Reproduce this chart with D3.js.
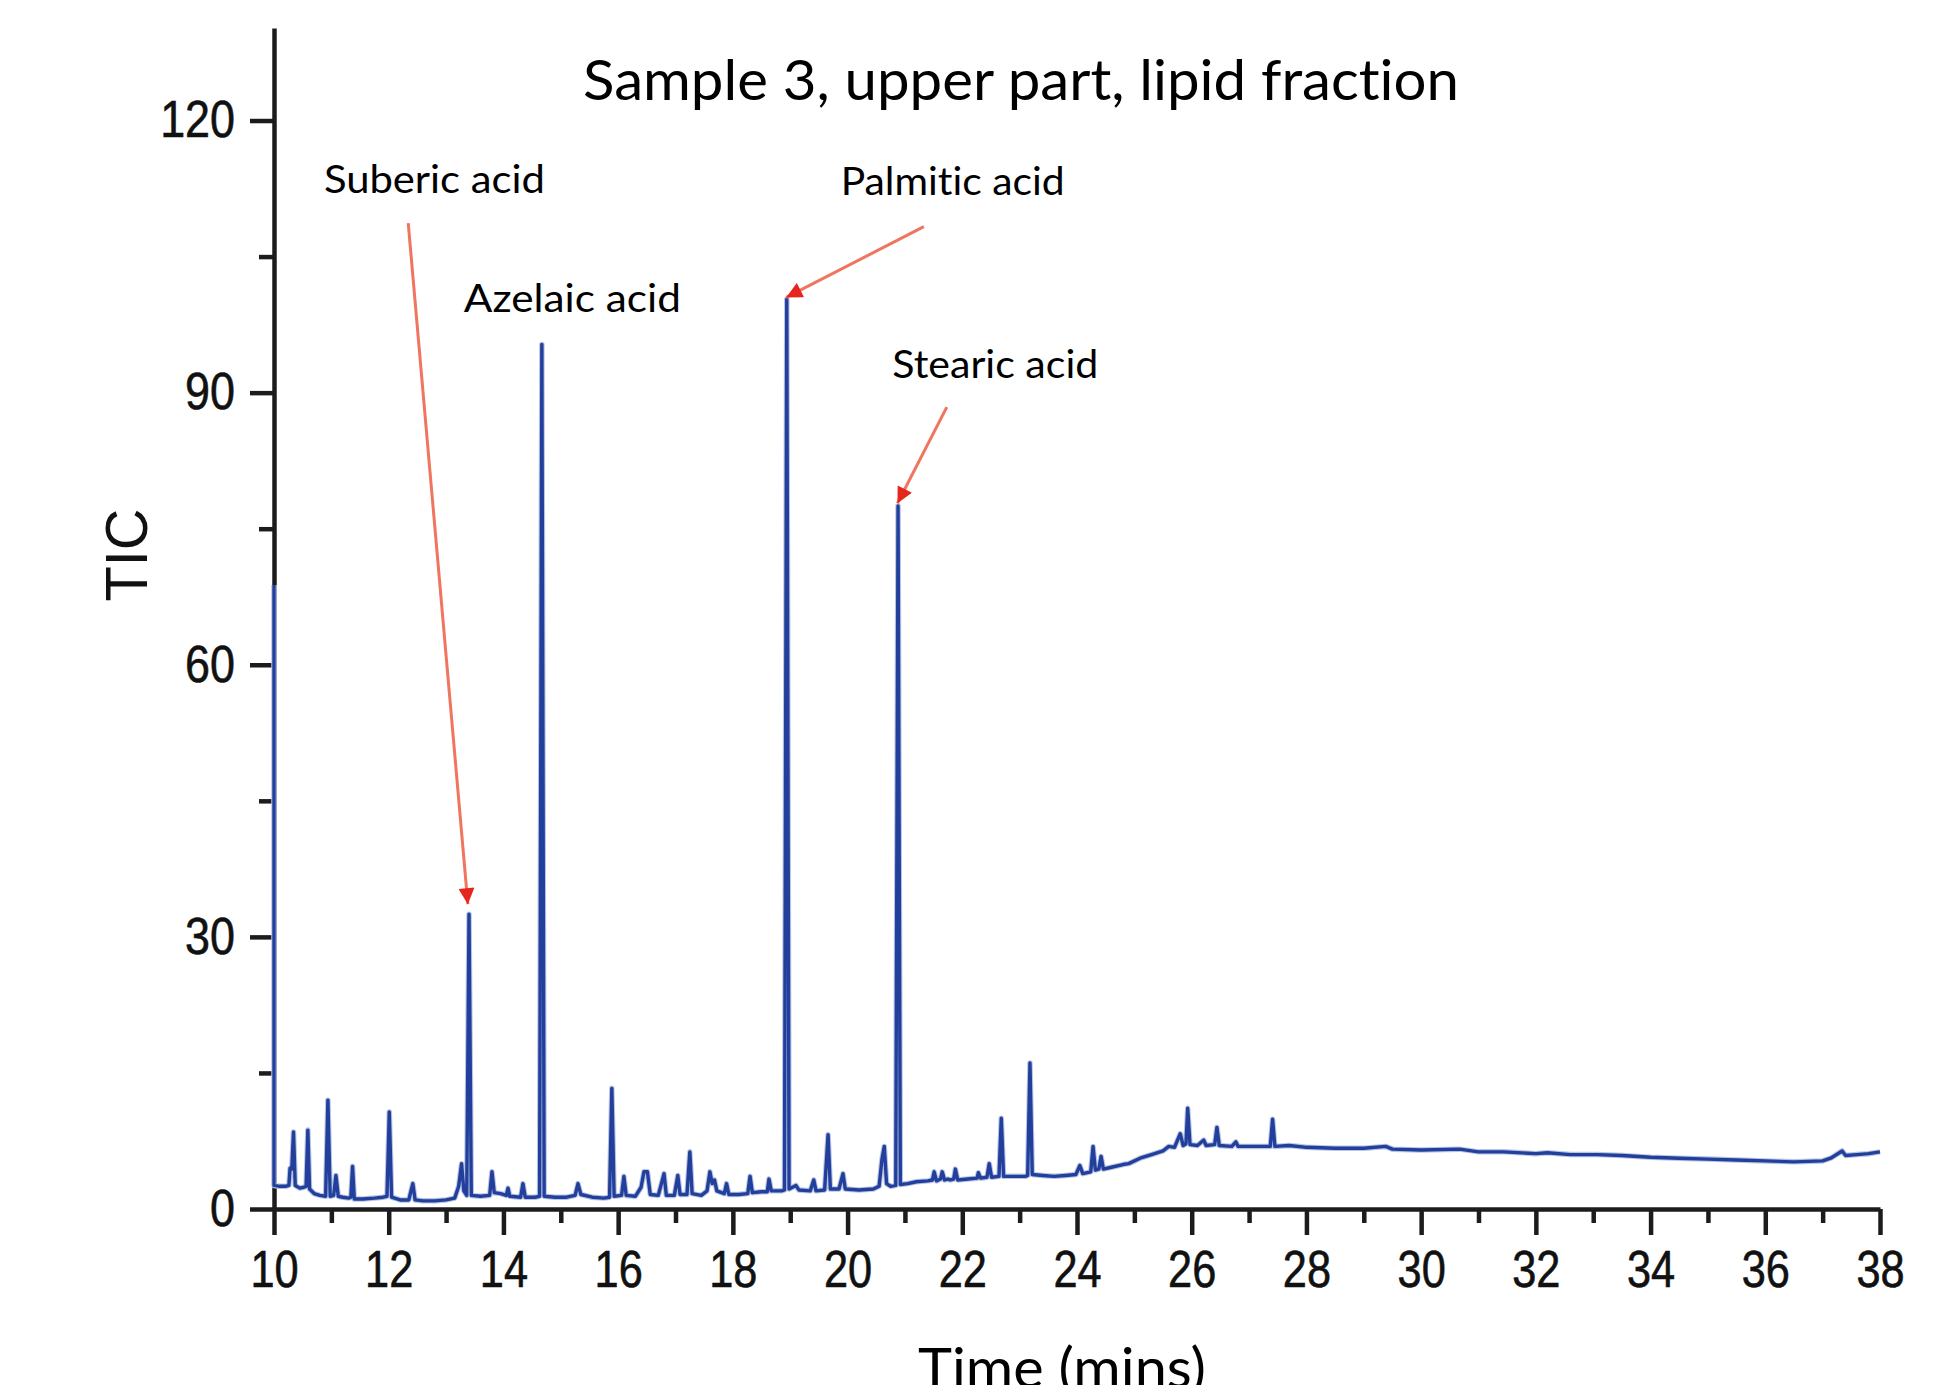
<!DOCTYPE html>
<html>
<head>
<meta charset="utf-8">
<script src="https://cdn.jsdelivr.net/npm/d3@7"></script>
<style>
  html, body { margin: 0; padding: 0; background: #fff; overflow: hidden; }
  svg { display: block; }
  text { font-variant-ligatures: none; }
</style>
</head>
<body>
<svg id="chart" width="1944" height="1385"></svg>
<script>
// chromatogram trace: retention time (min) and TIC
const traceTime = [
  10.00, 10.00, 10.10, 10.20, 10.26, 10.28, 10.31, 10.34, 10.37, 10.45,
  10.52, 10.56, 10.59, 10.62, 10.70, 10.80, 10.90, 10.94, 10.98, 11.04,
  11.08, 11.12, 11.20, 11.30, 11.34, 11.37, 11.40, 11.55, 11.75, 11.90,
  11.97, 12.01, 12.05, 12.20, 12.35, 12.42, 12.46, 12.60, 12.80, 13.00,
  13.15, 13.22, 13.27, 13.31, 13.36, 13.40, 13.44, 13.60, 13.76, 13.80,
  13.84, 13.95, 14.05, 14.08, 14.11, 14.30, 14.34, 14.38, 14.55, 14.63,
  14.67, 14.71, 14.90, 15.10, 15.25, 15.30, 15.35, 15.55, 15.75, 15.85,
  15.89, 15.93, 16.06, 16.10, 16.14, 16.30, 16.40, 16.45, 16.51, 16.56,
  16.70, 16.80, 16.84, 16.98, 17.04, 17.08, 17.20, 17.25, 17.29, 17.45,
  17.55, 17.60, 17.64, 17.68, 17.72, 17.85, 17.89, 17.93, 18.10, 18.26,
  18.30, 18.34, 18.50, 18.60, 18.63, 18.67, 18.85, 18.90, 18.94, 18.98,
  19.10, 19.15, 19.35, 19.41, 19.45, 19.60, 19.66, 19.70, 19.85, 19.92,
  19.96, 20.20, 20.45, 20.55, 20.60, 20.64, 20.68, 20.75, 20.84, 20.88,
  20.92, 21.05, 21.20, 21.40, 21.48, 21.51, 21.55, 21.62, 21.65, 21.69,
  21.75, 21.79, 21.85, 21.88, 21.92, 22.10, 22.26, 22.28, 22.32, 22.43,
  22.47, 22.51, 22.64, 22.68, 22.72, 22.90, 23.10, 23.14, 23.18, 23.22,
  23.40, 23.60, 23.80, 23.98, 24.05, 24.10, 24.24, 24.28, 24.32, 24.38,
  24.42, 24.46, 24.60, 24.80, 24.90, 25.10, 25.30, 25.50, 25.60, 25.70,
  25.80, 25.85, 25.90, 25.93, 25.97, 26.10, 26.21, 26.25, 26.40, 26.44,
  26.48, 26.70, 26.77, 26.81, 27.00, 27.20, 27.37, 27.41, 27.45, 27.70,
  28.00, 28.50, 29.00, 29.38, 29.50, 30.00, 30.67, 31.00, 31.44, 32.00,
  32.20, 32.60, 33.07, 33.50, 34.00, 34.50, 35.00, 35.50, 36.00, 36.50,
  37.00, 37.14, 37.34, 37.40, 37.60, 37.80, 38.00
];
const traceTic = [
  68.8, 2.6, 2.5, 2.5, 2.6, 4.5, 4.4, 8.5, 2.6, 2.3,
  2.4, 2.5, 8.7, 2.2, 1.7, 1.5, 1.4, 12.0, 1.4, 1.5,
  3.7, 1.4, 1.3, 1.2, 1.3, 4.7, 1.1, 1.1, 1.2, 1.3,
  1.4, 10.7, 1.3, 1.0, 1.0, 2.8, 1.0, 0.9, 0.9, 1.0,
  1.2, 2.5, 5.0, 2.0, 1.5, 32.5, 1.5, 1.4, 1.5, 4.1,
  1.8, 1.7, 1.5, 2.3, 1.4, 1.3, 2.8, 1.3, 1.3, 1.4,
  95.3, 1.4, 1.3, 1.3, 1.5, 2.8, 1.6, 1.3, 1.2, 1.3,
  13.3, 1.4, 1.5, 3.6, 1.5, 1.4, 2.4, 4.1, 4.1, 1.6,
  1.5, 3.9, 1.5, 1.5, 3.7, 1.6, 1.6, 6.3, 1.7, 1.5,
  2.0, 4.1, 2.8, 3.2, 2.0, 1.7, 2.8, 1.6, 1.6, 1.7,
  3.6, 1.8, 1.9, 1.9, 3.3, 2.0, 2.0, 2.1, 100.3, 2.2,
  2.6, 2.1, 2.0, 3.2, 2.0, 2.1, 8.2, 2.2, 2.2, 3.9,
  2.2, 2.1, 2.2, 2.5, 5.5, 6.9, 2.8, 2.5, 2.6, 77.5,
  2.7, 2.8, 3.0, 3.1, 3.2, 4.1, 3.1, 3.3, 4.1, 3.2,
  3.3, 3.2, 3.3, 4.4, 3.2, 3.3, 3.4, 4.0, 3.4, 3.5,
  5.0, 3.5, 3.6, 10.0, 3.6, 3.6, 3.6, 3.7, 16.1, 3.8,
  3.7, 3.6, 3.7, 3.8, 4.8, 3.9, 4.1, 6.9, 4.3, 4.4,
  5.8, 4.4, 4.6, 4.9, 5.0, 5.6, 6.0, 6.4, 6.9, 6.8,
  8.3, 7.0, 7.2, 11.1, 7.1, 7.0, 7.6, 7.0, 7.1, 9.0,
  7.0, 6.9, 7.4, 6.9, 6.9, 6.9, 6.9, 9.9, 6.9, 7.0,
  6.8, 6.7, 6.7, 6.9, 6.6, 6.5, 6.6, 6.3, 6.3, 6.1,
  6.2, 6.0, 6.0, 5.9, 5.7, 5.6, 5.5, 5.4, 5.3, 5.2,
  5.3, 5.6, 6.4, 5.9, 6.0, 6.1, 6.3
];

// axis ticks
const xMajorTicks = [10, 12, 14, 16, 18, 20, 22, 24, 26, 28, 30, 32, 34, 36, 38];
const xMinorTicks = [11, 13, 15, 17, 19, 21, 23, 25, 27, 29, 31, 33, 35, 37];
const yMajorTicks = [0, 30, 60, 90, 120];
const yMinorTicks = [15, 45, 75, 105];

// peak annotations, anchored in data units (time, TIC) of the label's left baseline
const labelNames = ['Suberic acid', 'Azelaic acid', 'Palmitic acid', 'Stearic acid'];
const labelTime = [10.87, 13.31, 19.88, 20.78];
const labelTic = [112.0, 98.9, 111.8, 91.6];

// arrows: tail and tip in data units
const arrowTailTime = [12.34, 21.33, 21.73];
const arrowTailTic = [108.7, 108.3, 88.4];
const arrowTipTime = [13.38, 18.93, 20.87];
const arrowTipTic = [33.6, 100.5, 77.8];

const titleText = 'Sample 3, upper part, lipid fraction';
const xLabel = 'Time (mins)';
const yLabel = 'TIC';

// ---- drawing ----
const svg = d3.select('#chart');
const W = 1944, H = 1385;
svg.append('rect').attr('width', W).attr('height', H).attr('fill', '#fff');

const x = d3.scaleLinear().domain([10, 38]).range([274, 1880]);
const y = d3.scaleLinear().domain([0, 130.2]).range([1209, 28]);

const axisColor = '#1c1c1e';
const axisWidth = 4.5;
const tickFont = "'Liberation Sans', Arial, sans-serif";
const textFont = "Lato, 'Open Sans', sans-serif";

function styleAxis(g) {
  g.selectAll('path, line').attr('stroke', axisColor).attr('stroke-width', axisWidth);
}

// x axis
svg.append('g')
  .attr('transform', `translate(0,${y(0)})`)
  .call(d3.axisBottom(x).tickValues(xMinorTicks).tickSize(14).tickFormat(''))
  .call(g => g.select('.domain').remove())
  .call(styleAxis);

const xAxis = svg.append('g')
  .attr('transform', `translate(0,${y(0)})`)
  .call(d3.axisBottom(x).tickValues(xMajorTicks).tickSize(26).tickSizeOuter(0)
    .tickPadding(16).tickFormat(d3.format('d')))
  .call(styleAxis);
xAxis.selectAll('text')
  .attr('font-family', tickFont)
  .attr('font-size', 51)
  .attr('fill', '#111')
  .attr('stroke', '#111')
  .attr('stroke-width', 0.6)
  .attr('transform', 'scale(0.85,1)');

// y axis
svg.append('g')
  .attr('transform', `translate(${x(10)},0)`)
  .call(d3.axisLeft(y).tickValues(yMinorTicks).tickSize(15).tickFormat(''))
  .call(g => g.select('.domain').remove())
  .call(styleAxis);

const yAxis = svg.append('g')
  .attr('transform', `translate(${x(10)},0)`)
  .call(d3.axisLeft(y).tickValues(yMajorTicks).tickSize(24).tickSizeOuter(0)
    .tickFormat(d3.format('d')))
  .call(styleAxis);
yAxis.selectAll('text')
  .attr('x', 0)
  .attr('font-family', tickFont)
  .attr('font-size', 51)
  .attr('fill', '#111')
  .attr('stroke', '#111')
  .attr('stroke-width', 0.6)
  .attr('transform', 'translate(-39,0) scale(0.88,1)');

// trace
const line = d3.line()
  .x((d, i) => x(traceTime[i]))
  .y(d => y(d));

svg.append('path')
  .datum(traceTic)
  .attr('fill', 'none')
  .attr('stroke', '#b9c3e4')
  .attr('stroke-width', 5.5)
  .attr('stroke-linejoin', 'round')
  .attr('d', line);

svg.append('path')
  .datum(traceTic)
  .attr('fill', 'none')
  .attr('stroke', '#22409b')
  .attr('stroke-width', 3.4)
  .attr('stroke-linejoin', 'round')
  .attr('d', line);

// arrows
const defs = svg.append('defs');
defs.append('marker')
  .attr('id', 'head')
  .attr('viewBox', '0 0 10 10')
  .attr('refX', 10).attr('refY', 5)
  .attr('markerUnits', 'userSpaceOnUse')
  .attr('markerWidth', 22).attr('markerHeight', 16)
  .attr('orient', 'auto')
  .append('path')
  .attr('d', 'M0,0 L10,5 L0,10 Z')
  .attr('fill', '#e6261c');

svg.append('g').selectAll('line')
  .data(arrowTailTime)
  .join('line')
  .attr('x1', (d, i) => x(arrowTailTime[i]))
  .attr('y1', (d, i) => y(arrowTailTic[i]))
  .attr('x2', (d, i) => x(arrowTipTime[i]))
  .attr('y2', (d, i) => y(arrowTipTic[i]))
  .attr('stroke', '#f07560')
  .attr('stroke-width', 3)
  .attr('marker-end', 'url(#head)');

// peak labels
const labelWidths = [221, 217, 224, 206];
svg.append('g').selectAll('text')
  .data(labelNames)
  .join('text')
  .attr('x', (d, i) => x(labelTime[i]))
  .attr('y', (d, i) => y(labelTic[i]))
  .attr('font-family', textFont)
  .attr('font-size', 38)
  .attr('fill', '#000')
  .attr('textLength', (d, i) => labelWidths[i])
  .attr('lengthAdjust', 'spacingAndGlyphs')
  .text(d => d);

// title
svg.append('text')
  .attr('x', 1021)
  .attr('y', 100)
  .attr('text-anchor', 'middle')
  .attr('font-family', textFont)
  .attr('font-size', 57)
  .attr('fill', '#000')
  .attr('textLength', 876)
  .attr('lengthAdjust', 'spacingAndGlyphs')
  .text(titleText);

// axis titles
svg.append('text')
  .attr('x', 1062)
  .attr('y', 1388)
  .attr('text-anchor', 'middle')
  .attr('font-family', textFont)
  .attr('font-size', 57)
  .attr('fill', '#000')
  .attr('textLength', 288)
  .attr('lengthAdjust', 'spacingAndGlyphs')
  .text(xLabel);

svg.append('text')
  .attr('transform', 'translate(147,555) rotate(-90)')
  .attr('text-anchor', 'middle')
  .attr('font-family', tickFont)
  .attr('font-size', 60)
  .attr('fill', '#111')
  .attr('textLength', 93)
  .attr('lengthAdjust', 'spacingAndGlyphs')
  .text(yLabel);
</script>
</body>
</html>
